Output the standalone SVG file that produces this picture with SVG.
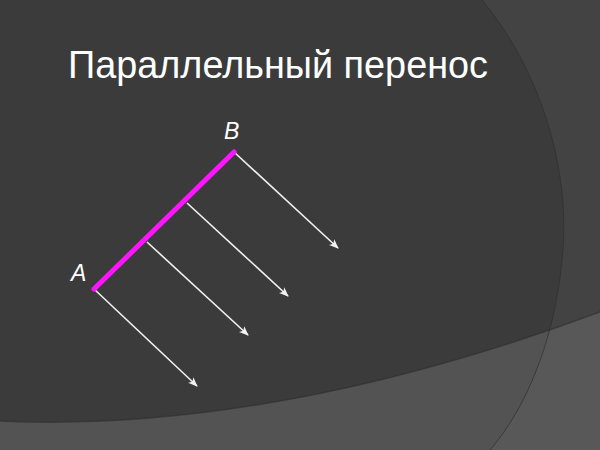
<svg xmlns="http://www.w3.org/2000/svg" width="600" height="450" viewBox="0 0 600 450">
  <defs>
    <style>
      .title { font-family: "Liberation Sans", Arial, sans-serif; font-size: 38px; fill: #ffffff; }
      .label { font-family: "Liberation Sans", Arial, sans-serif; font-size: 23px; font-style: italic; fill: #ffffff; }
      .ray { stroke: #f2f2f2; stroke-width: 1.6; fill: none; marker-end: url(#arrow); }
      .seg { stroke: #ff14ff; stroke-width: 5; stroke-linecap: round; fill: none; }
    </style>
    <marker id="arrow" viewBox="0 0 10 10" refX="9" refY="5" markerWidth="6" markerHeight="6" orient="auto" markerUnits="strokeWidth">
      <path d="M0,1 L10,5 L0,9 L2.5,5 Z" fill="#f2f2f2"/>
    </marker>
    <clipPath id="right">
      <path d="M482,0 C540,70 572,170 562,260 C555,340 525,410 490,450 L600,450 L600,0 Z"/>
    </clipPath>
  </defs>

  <g id="background">
    <rect x="0" y="0" width="600" height="450" fill="#3b3b3b"/>
    <path d="M482,0 C540,70 572,170 562,260 C555,340 525,410 490,450 L600,450 L600,0 Z" fill="#434343"/>
    <path d="M0,421 C150,428 350,405 600,312 L600,450 L0,450 Z" fill="#535353"/>
    <path d="M0,421 C150,428 350,405 600,312 L600,450 L0,450 Z" fill="#585858" clip-path="url(#right)"/>
    <path d="M482,0 C540,70 572,170 562,260 C555,340 525,410 490,450" fill="none" stroke="#2f2f2f" stroke-width="1" opacity="0.7"/>
    <path d="M0,421 C150,428 350,405 600,312" fill="none" stroke="#2e2e2e" stroke-width="1.5" opacity="0.6"/>
  </g>

  <g id="title">
    <text class="title" x="68" y="78" textLength="420" lengthAdjust="spacingAndGlyphs">Параллельный перенос</text>
  </g>

  <g id="connectors">
    <line class="ray" x1="234" y1="152" x2="338" y2="248"/>
    <line class="ray" x1="187" y1="203" x2="288" y2="296"/>
    <line class="ray" x1="147" y1="242" x2="248" y2="335"/>
    <line class="ray" x1="94" y1="289" x2="197" y2="386"/>
  </g>

  <g id="segment-AB">
    <line class="seg" x1="94" y1="289" x2="234" y2="152"/>
  </g>

  <g id="label-A">
    <text class="label" x="71" y="281">A</text>
  </g>
  <g id="label-B">
    <text class="label" x="224" y="139">B</text>
  </g>
</svg>
